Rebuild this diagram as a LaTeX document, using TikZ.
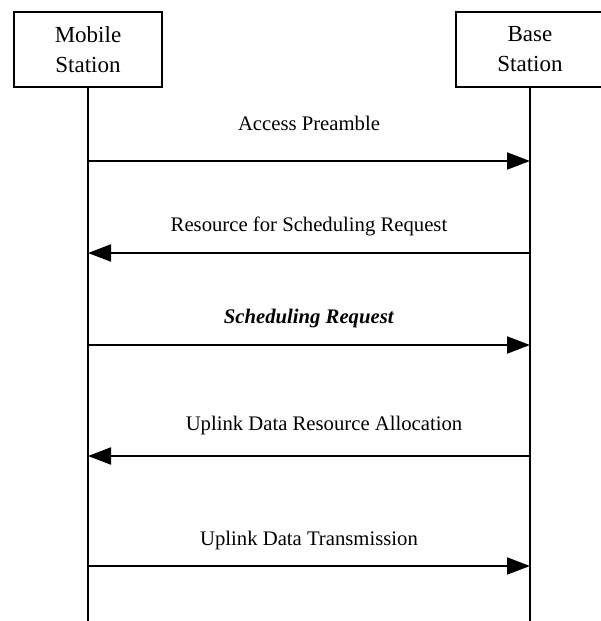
\documentclass[tikz,border=0pt]{standalone}
\usepackage{fontspec}
\setmainfont{Liberation Serif}
\usetikzlibrary{arrows.meta}
\tikzset{
  station/.style={draw, line width=2.7pt, minimum width=148pt, minimum height=75pt,
    inner sep=0pt, align=center, font=\fontsize{23}{30}\selectfont},
  lifeline/.style={line width=2pt},
  msg/.style={line width=2pt, -{Triangle[length=23pt,width=17pt]}},
  msglabel/.style={inner sep=0pt, font=\fontsize{20.7}{24}\selectfont}
}
\begin{document}
\begin{tikzpicture}[x=1pt,y=-1pt]
      \useasboundingbox (0,0) rectangle (601,621);
      \clip (0,0) rectangle (601,621);
      % stations
      \node[station] (ms) at (88,49.5) {Mobile\\Station};
      \node[station] (bs) at (530,49.5) {Base\\Station};
      \coordinate (msend) at (88,621);
      \coordinate (bsend) at (530,621);
      \draw[lifeline] (ms.south) -- (msend);
      \draw[lifeline] (bs.south) -- (bsend);
      % points on the lifelines
      \coordinate (ms1) at (88,161);
      \coordinate (bs1) at (530,161);
      \coordinate (ms2) at (88,253);
      \coordinate (bs2) at (530,253);
      \coordinate (ms3) at (88,345);
      \coordinate (bs3) at (530,345);
      \coordinate (ms4) at (88,456);
      \coordinate (bs4) at (530,456);
      \coordinate (ms5) at (88,566);
      \coordinate (bs5) at (530,566);
      % messages
      \node[msglabel] (l1) at (309,123) {Access Preamble};
      \node[msglabel] (l2) at (309,226) {Resource for Scheduling Request};
      \node[msglabel] (l3) at (309,319) {\textbf{\textit{Scheduling Request}}};
      \node[msglabel] (l4) at (324,426) {Uplink Data Resource Allocation};
      \node[msglabel] (l5) at (309,541) {Uplink Data Transmission};
      \begin{scope}[msg]
        \draw (ms1) to (bs1);
        \draw (bs2) to (ms2);
        \draw (ms3) to (bs3);
        \draw (bs4) to (ms4);
        \draw (ms5) to (bs5);
      \end{scope}
    \end{tikzpicture}
\end{document}
